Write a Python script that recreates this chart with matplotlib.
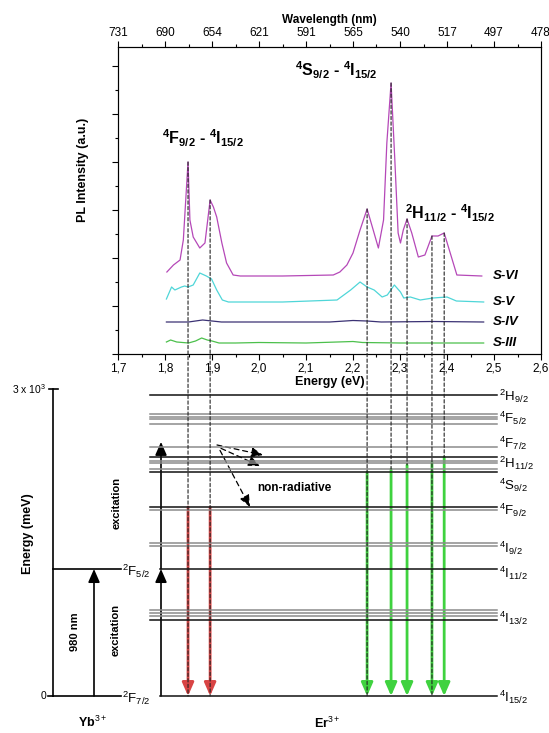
import matplotlib
matplotlib.use("Agg")
import matplotlib.pyplot as plt
from matplotlib import transforms
from matplotlib.patches import FancyArrowPatch, ConnectionPatch
from matplotlib.ticker import MultipleLocator

plt.rcParams['font.family'] = ['Liberation Sans', 'DejaVu Sans']
plt.rcParams['mathtext.fontset'] = 'custom'
plt.rcParams['mathtext.rm'] = 'Liberation Sans'
plt.rcParams['mathtext.it'] = 'Liberation Sans:italic'
plt.rcParams['mathtext.bf'] = 'Liberation Sans:bold'

# ---------- PL spectra (energy in eV, intensity in a.u.) ----------
e_s6 = [1.804, 1.818, 1.832, 1.839, 1.849, 1.853, 1.860, 1.874, 1.885, 1.896, 1.903,
        1.910, 1.921, 1.931, 1.945, 1.960, 2.050, 2.158, 2.172, 2.187, 2.200, 2.215,
        2.230, 2.243, 2.254, 2.265, 2.272, 2.281, 2.289, 2.296, 2.301, 2.307, 2.315,
        2.325, 2.339, 2.353, 2.368, 2.381, 2.394, 2.403, 2.421, 2.474]
i_s6 = [82, 89, 94, 114, 192, 134, 117, 106, 111, 154, 147,
        137, 111, 91, 79, 78, 78, 79, 82, 89, 101, 124,
        145, 124, 106, 134, 211, 271, 194, 121, 111, 124, 135,
        121, 97, 99, 118, 118, 121, 107, 79, 78]

e_s5 = [1.803, 1.814, 1.821, 1.835, 1.842, 1.849, 1.860, 1.874, 1.888, 1.899, 1.910,
        1.922, 1.935, 2.050, 2.166, 2.195, 2.215, 2.230, 2.245, 2.262, 2.273, 2.288,
        2.301, 2.308, 2.322, 2.343, 2.370, 2.400, 2.420, 2.478]
i_s5 = [55, 67, 64, 67, 68, 67, 69, 81, 78, 75, 64,
        54, 52, 52, 54, 64, 72, 67, 64, 57, 59, 69,
        62, 56, 57, 54, 56, 57, 53, 52]

e_s4 = [1.803, 1.850, 1.880, 1.900, 1.920, 2.150, 2.200, 2.230, 2.260, 2.370, 2.478]
i_s4 = [32, 32, 34, 33, 32, 32, 33.5, 33, 32, 32.5, 32]

e_s3 = [1.803, 1.812, 1.825, 1.850, 1.865, 1.878, 1.890, 1.900, 1.915, 1.950, 2.000,
        2.100, 2.200, 2.220, 2.300, 2.400, 2.478]
i_s3 = [12, 14, 12, 11, 13, 16, 14, 13, 11, 11, 11.5,
        11, 12.5, 11.5, 11, 11, 11]

series = [(e_s6, i_s6, '#b548b8', 'S-VI'),
          (e_s5, i_s5, '#4fd6d8', 'S-V'),
          (e_s4, i_s4, '#3b3274', 'S-IV'),
          (e_s3, i_s3, '#4cc04c', 'S-III')]

energy_ticks = [1.7, 1.8, 1.9, 2.0, 2.1, 2.2, 2.3, 2.4, 2.5, 2.6]
energy_labels = ['1,7', '1,8', '1,9', '2,0', '2,1', '2,2', '2,3', '2,4', '2,5', '2,6']
wavelength_labels = ['731', '690', '654', '621', '591', '565', '540', '517', '497', '478']

# ---------- emission transitions ----------
peak_energy = [1.849, 1.896, 2.230, 2.281, 2.315, 2.368, 2.394]
peak_intensity = [192, 154, 145, 271, 135, 118, 121]
emit_from = [1847, 1847, 2189, 2218, 2257, 2287, 2335]   # meV
emit_color = ['#d84444', '#d84444', '#3fd23f', '#3fd23f', '#3fd23f', '#3fd23f', '#3fd23f']
dash_through = [True, True, True, False, False, True, False]

# ---------- Er3+ / Yb3+ levels (meV) ----------
er_levels = [2941, 2756, 2726, 2707, 2658, 2433, 2336, 2296, 2277, 2218, 2189,
             1847, 1818, 1495, 1466, 1241, 840, 811, 782, 743, 0]
er_dark = [True, False, False, False, False, False, True, False, False, False, True,
           True, False, False, False, True, False, False, False, True, True]
er_names = [r'$^{2}$H$_{9/2}$', r'$^{4}$F$_{5/2}$', r'$^{4}$F$_{7/2}$', r'$^{2}$H$_{11/2}$',
            r'$^{4}$S$_{9/2}$', r'$^{4}$F$_{9/2}$', r'$^{4}$I$_{9/2}$', r'$^{4}$I$_{11/2}$',
            r'$^{4}$I$_{13/2}$', r'$^{4}$I$_{15/2}$']
er_name_y = [2932, 2717, 2472, 2277, 2062, 1818, 1446, 1202, 762, -10]
yb_levels = [1241, 0]
yb_names = [r'$^{2}$F$_{5/2}$', r'$^{2}$F$_{7/2}$']
pump_energy = 1241
upper_pump = 2433
energy_axis_max = 3000


def transition(a, la, b, lb):
    # bold term-symbol pair such as 4F9/2 - 4I15/2
    return (r'$^{\mathbf{%s}}$%s$_{\mathbf{%s}}$ - $^{\mathbf{%s}}$%s$_{\mathbf{%s}}$'
            % (a[0], a[1], la, b[0], b[1], lb))


W, H = 549, 733
fig = plt.figure(figsize=(W / 100, H / 100), dpi=100)

# ---------- spectrum panel ----------
ax = fig.add_axes([118 / W, (H - 354) / H, 423 / W, 307 / H])
for e, i, c, name in series:
    ax.plot(e, i, color=c, lw=0.9)
    ax.text(2.498, i[-1], name, fontsize=9.5, fontweight='bold', style='italic',
            va='center', ha='left')
ax.set_xlim(1.7, 2.6)
ax.set_ylim(0, 307)
ax.set_xticks(energy_ticks)
ax.set_xticklabels(energy_labels, fontsize=8.5)
ax.xaxis.set_minor_locator(MultipleLocator(0.05))
ax.yaxis.set_major_locator(MultipleLocator(48))
ax.yaxis.set_minor_locator(MultipleLocator(24))
ax.set_yticklabels([])
ax.tick_params(which='major', direction='out', length=4, width=0.8, pad=2)
ax.tick_params(which='minor', direction='out', length=2.5, width=0.8)
ax.set_xlabel('Energy (eV)', fontsize=9, fontweight='bold', labelpad=1)
ax.set_ylabel('PL Intensity (a.u.)', fontsize=9, fontweight='bold')
ax.yaxis.set_label_coords(-0.068, 0.6)
for s in ax.spines.values():
    s.set_linewidth(0.8)
    s.set_color('#333333')

top = ax.twiny()
top.set_xlim(ax.get_xlim())
top.set_xticks(energy_ticks)
top.set_xticklabels(wavelength_labels, fontsize=8.5)
top.xaxis.set_minor_locator(MultipleLocator(0.05))
top.tick_params(which='major', direction='out', length=4, width=0.8, pad=2)
top.tick_params(which='minor', direction='out', length=2.5, width=0.8)
top.set_xlabel('Wavelength (nm)', fontsize=8.5, fontweight='bold', labelpad=3)

ax.text(1.794, 216, transition('4F', '9/2', '4I', '15/2'), fontsize=11.5,
        fontweight='bold', ha='left', va='center')
ax.text(2.077, 284, transition('4S', '9/2', '4I', '15/2'), fontsize=11.5,
        fontweight='bold', ha='left', va='center')
ax.text(2.311, 141, transition('2H', '11/2', '4I', '15/2'), fontsize=11.5,
        fontweight='bold', ha='left', va='center')

# ---------- energy level scheme ----------
bx = fig.add_axes([0, 0, 1, (H - 380) / H])
bx.set_xlim(0, W)
bx.set_ylim(-361.6, 3088)
bx.axis('off')
bx.patch.set_alpha(0)

# vertical energy axis
bx.plot([53, 53], [0, energy_axis_max], color='k', lw=1.2)
bx.plot([49, 58], [energy_axis_max, energy_axis_max], color='k', lw=1.2)
bx.plot([48, 53], [0, 0], color='k', lw=1.2)
bx.text(46, energy_axis_max, r'3 x 10$^{3}$', fontsize=7.5, ha='right', va='center')
bx.text(46, 0, '0', fontsize=7.5, ha='right', va='center')
bx.text(28, 1583, 'Energy (meV)', fontsize=9, fontweight='bold', rotation=90,
        ha='center', va='center')

# Yb3+ levels
for lv, nm in zip(yb_levels, yb_names):
    bx.plot([53, 121], [lv, lv], color='k', lw=1.2)
    bx.text(122, lv - 25, nm, fontsize=9.5, ha='left', va='center')

# Er3+ levels
for lv, dark in zip(er_levels, er_dark):
    x0 = 160 if lv in (pump_energy, 0) else 150
    bx.plot([x0, 497], [lv, lv], color='#111111' if dark else '#8c8c8c', lw=1.1)
for nm, y in zip(er_names, er_name_y):
    bx.text(499, y, nm, fontsize=9.5, ha='left', va='center')


# pumping arrows
def up_arrow(x, y0, y1):
    bx.add_patch(FancyArrowPatch((x, y0), (x, y1), arrowstyle='-|>,head_length=0.8,head_width=0.35',
                                 mutation_scale=10, color='k', lw=1.2, shrinkA=0, shrinkB=0))


up_arrow(94, 0, pump_energy)
up_arrow(161, 0, pump_energy)
up_arrow(161, pump_energy, upper_pump + 50)
bx.text(75, 625, '980 nm', fontsize=8, fontweight='bold', rotation=90, ha='center', va='center')
bx.text(116, 645, 'excitation', fontsize=8, fontweight='bold', rotation=90, ha='center', va='center')
bx.text(117, 1886, 'excitation', fontsize=8, fontweight='bold', rotation=90, ha='center', va='center')

# non-radiative relaxation
for (x0, y0), (x1, y1) in [((217, 2453), (263, 2355)), ((221, 2420), (260, 2247)),
                           ((220, 2400), (250, 1847))]:
    bx.add_patch(FancyArrowPatch((x0, y0), (x1, y1), arrowstyle='-|>,head_length=0.7,head_width=0.3',
                                 mutation_scale=10, color='k', lw=0.9, linestyle=(0, (4, 3)),
                                 shrinkA=0, shrinkB=0))
bx.text(294, 2033, 'non-radiative', fontsize=8.5, fontweight='bold', ha='center', va='center')

bx.text(93, -254, r'Yb$^{3+}$', fontsize=9, fontweight='bold', ha='center', va='center')
bx.text(327, -270, r'Er$^{3+}$', fontsize=9, fontweight='bold', ha='center', va='center')

# emission arrows placed on the spectrum energy scale
blend = transforms.blended_transform_factory(ax.transData, bx.transData)
for e, start, c in zip(peak_energy, emit_from, emit_color):
    bx.add_patch(FancyArrowPatch((e, start), (e, 0), transform=blend,
                                 arrowstyle='-|>,head_length=0.8,head_width=0.35',
                                 mutation_scale=10, color=c, lw=2.0, shrinkA=0, shrinkB=0))

# dashed guides from each peak down to the transition
for e, pk, start, through in zip(peak_energy, peak_intensity, emit_from, dash_through):
    con = ConnectionPatch(xyA=(e, pk), coordsA=ax.transData,
                          xyB=(e, 0 if through else start), coordsB=blend,
                          color='#222222', lw=0.8, linestyle=(0, (3, 2)))
    fig.add_artist(con)

fig.savefig('out.png', dpi=100)
